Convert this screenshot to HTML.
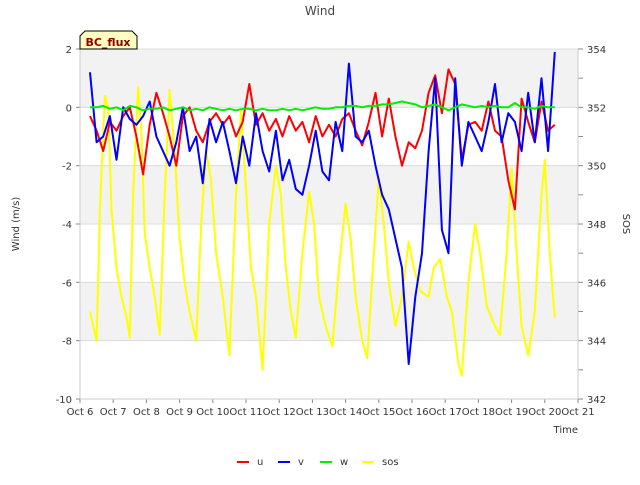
<!DOCTYPE html>
<html><head><meta charset="utf-8"><style>
body{margin:0;background:#fff;font-family:"Liberation Sans","DejaVu Sans",sans-serif}
</style></head><body>
<svg id="chart" width="640" height="480" xmlns="http://www.w3.org/2000/svg" font-family="DejaVu Sans, Liberation Sans, sans-serif"></svg>
<script>
const uTimes0 = 6.3, step = 0.2;
const uVals = [-0.3,-0.8,-1.5,-0.5,-0.8,-0.3,0.0,-1.0,-2.3,-0.6,0.5,-0.2,-1.0,-2.0,-0.3,0.0,-0.8,-1.2,-0.5,-0.2,-0.6,-0.3,-1.0,-0.5,0.8,-0.6,-0.2,-0.8,-0.4,-1.0,-0.3,-0.8,-0.5,-1.2,-0.3,-1.0,-0.6,-1.0,-0.4,-0.2,-0.8,-1.3,-0.5,0.5,-1.0,0.3,-1.0,-2.0,-1.2,-1.4,-0.8,0.5,1.1,-0.2,1.3,0.8,-1.8,-0.6,-0.5,-0.8,0.2,-0.8,-1.0,-2.5,-3.5,0.3,-0.5,-1.2,0.2,-0.8,-0.6];
const vVals = [1.2,-1.2,-1.0,-0.3,-1.8,0.0,-0.4,-0.6,-0.3,0.2,-1.0,-1.5,-2.0,-1.2,0.0,-1.5,-1.0,-2.6,-0.4,-1.2,-0.5,-1.5,-2.6,-1.0,-2.0,-0.2,-1.5,-2.2,-0.8,-2.5,-1.8,-2.8,-3.0,-2.0,-0.8,-2.2,-2.5,-0.5,-1.5,1.5,-1.0,-1.2,-0.8,-2.0,-3.0,-3.5,-4.5,-5.5,-8.8,-6.5,-5.0,-1.5,1.0,-4.2,-5.0,1.0,-2.0,-0.5,-1.0,-1.5,-0.5,0.8,-1.2,-0.2,-0.5,-1.5,0.5,-1.2,1.0,-1.5,1.9];
const wVals = [0.0,0.0,0.05,-0.05,0.0,-0.1,0.05,0.0,-0.1,-0.05,-0.05,0.0,-0.1,-0.05,0.0,-0.1,-0.05,-0.1,0.0,-0.05,-0.1,-0.05,-0.1,-0.05,-0.05,-0.1,-0.05,-0.1,-0.1,-0.05,-0.1,-0.05,-0.1,-0.05,0.0,-0.05,-0.05,0.0,0.0,0.05,0.05,0.0,0.05,0.05,0.1,0.1,0.15,0.2,0.15,0.1,0.0,0.05,0.1,0.0,-0.1,0.0,0.1,0.05,0.0,0.05,0.0,0.05,0.0,0.0,0.15,0.0,0.0,-0.05,0.05,0.0,0.0];
const sosTimes = [6.3,6.4,6.5,6.6,6.75,6.85,6.95,7.1,7.25,7.4,7.5,7.6,7.75,7.85,7.95,8.1,8.25,8.4,8.55,8.7,8.85,9.0,9.15,9.3,9.5,9.65,9.8,9.95,10.1,10.3,10.5,10.7,10.85,11.0,11.15,11.3,11.5,11.7,11.9,12.05,12.2,12.35,12.5,12.7,12.9,13.05,13.2,13.4,13.6,13.8,14.0,14.15,14.3,14.5,14.65,14.85,15.0,15.15,15.3,15.5,15.7,15.9,16.05,16.25,16.5,16.65,16.85,17.05,17.2,17.4,17.5,17.7,17.9,18.05,18.25,18.5,18.65,18.85,19.0,19.15,19.3,19.5,19.7,19.9,20.0,20.15,20.25,20.3];
const sosVals = [345.0,344.5,344.0,348.5,352.4,352.0,348.5,346.5,345.5,344.8,344.1,349.0,352.7,351.2,347.7,346.5,345.5,344.2,349.0,352.6,350.5,347.5,346.0,345.0,344.0,348.0,350.5,349.5,347.0,345.5,343.5,349.0,351.9,349.2,346.5,345.5,343.0,348.0,350.0,349.0,346.5,345.0,344.1,347.0,349.1,348.0,345.5,344.5,343.8,346.5,348.7,347.5,345.5,344.0,343.4,347.0,349.6,348.0,346.0,344.5,345.5,347.4,346.5,345.7,345.5,346.5,346.8,345.5,345.0,343.2,342.8,346.0,348.0,347.0,345.2,344.5,344.2,347.0,349.9,347.0,344.5,343.5,345.0,349.0,350.2,347.0,345.5,344.8];
const leftTicks = [2,0,-2,-4,-6,-8,-10];
const rightTicks = [354,352,350,348,346,344,342];
const dayTicks = [6,7,8,9,10,11,12,13,14,15,16,17,18,19,20,21];

const NS="http://www.w3.org/2000/svg", svg=document.getElementById('chart');
const X0=80,X1=578,Y0=49,Y1=399;
const xs=d=>X0+(d-6)/(21-6)*(X1-X0);
const yl=v=>Y0+(2-v)/12*(Y1-Y0);
const yr=v=>Y0+(354-v)/12*(Y1-Y0);
function mk(t,a,p){const e=document.createElementNS(NS,t);for(const k in a)e.setAttribute(k,a[k]);(p||svg).appendChild(e);return e;}
[[2,0],[-2,-4],[-6,-8]].forEach(b=>{const r=mk('rect',{x:X0,y:yl(b[0]),width:X1-X0,height:yl(b[1])-yl(b[0]),fill:'#f2f2f2'});
});
leftTicks.forEach(t=>{const l=mk('line',{x1:X0,x2:X1,y1:yl(t),y2:yl(t),stroke:'#dcdcdc'});

const tx=mk('text',{x:X0-8,y:yl(t)+4,'text-anchor':'end','font-size':10,fill:'#333'});tx.textContent=t;

mk('line',{x1:X0-4,x2:X0,y1:yl(t),y2:yl(t),stroke:'#888'});});
rightTicks.forEach(t=>{const tx=mk('text',{x:X1+9,y:yr(t)+4,'font-size':10,fill:'#333'});tx.textContent=t;

mk('line',{x1:X1,x2:X1+5,y1:yr(t),y2:yr(t),stroke:'#888'});
if(t>342)mk('line',{x1:X1,x2:X1+5,y1:yr(t-1),y2:yr(t-1),stroke:'#888'});});
dayTicks.forEach(d=>{const tx=mk('text',{x:xs(d),y:Y1+16,'text-anchor':'middle','font-size':10,fill:'#333'});tx.textContent='Oct '+d;

mk('line',{x1:xs(d),x2:xs(d),y1:Y1,y2:Y1+4,stroke:'#888'});});
mk('line',{x1:X0,x2:X0,y1:Y0,y2:Y1,stroke:'#ccc'});mk('line',{x1:X1,x2:X1,y1:Y0,y2:Y1,stroke:'#ccc'});mk('line',{x1:X0,x2:X1,y1:Y1,y2:Y1,stroke:'#ccc'});
function series(vals,times,yf,color,name){const pts=vals.map((v,i)=>xs(times?times[i]:uTimes0+i*step).toFixed(1)+','+yf(v).toFixed(1)).join(' ');
const p=mk('polyline',{points:pts,fill:'none',stroke:color,'stroke-width':2,'stroke-linejoin':'round'});
}
series(sosVals,sosTimes,yr,'#ffff00','sos-line');
series(uVals,null,yl,'#ff0000','u-line');
series(vVals,null,yl,'#0000ff','v-line');
series(wVals,null,yl,'#00ee00','w-line');
function txt(s,a,name){const t=mk('text',a);t.textContent=s;return t;}
txt('Wind',{x:320,y:15,'text-anchor':'middle','font-size':12,fill:'#444'},'chart-title');
txt('Wind (m/s)',{x:19,y:224,'text-anchor':'middle','font-size':10,fill:'#333',transform:'rotate(-90 19 224)'},'y-axis-title');
txt('SOS',{x:623,y:224,'text-anchor':'middle','font-size':10,fill:'#333',transform:'rotate(90 623 224)'},'y2-axis-title');
txt('Time',{x:578,y:433,'text-anchor':'end','font-size':10,fill:'#333'},'x-axis-title');
const bx=mk('path',{d:'M80,49 L80,36 L85,31 L132,31 L137,36 L137,49 Z',fill:'#ffffc0',stroke:'#000','stroke-width':1});

txt('BC_flux',{x:108,y:46,'text-anchor':'middle','font-size':11,'font-weight':'bold',fill:'#8b0000'},'site-label');
[['u','#ff0000',237],['v','#0000ff',278],['w','#00ee00',320],['sos','#ffff00',362]].forEach(l=>{
const g=mk('g',{});
mk('line',{x1:l[2],x2:l[2]+12,y1:462,y2:462,stroke:l[1],'stroke-width':2},g);
const t=mk('text',{x:l[2]+20,y:465,'font-size':10,fill:'#333'},g);t.textContent=l[0];});
</script>
</body></html>
